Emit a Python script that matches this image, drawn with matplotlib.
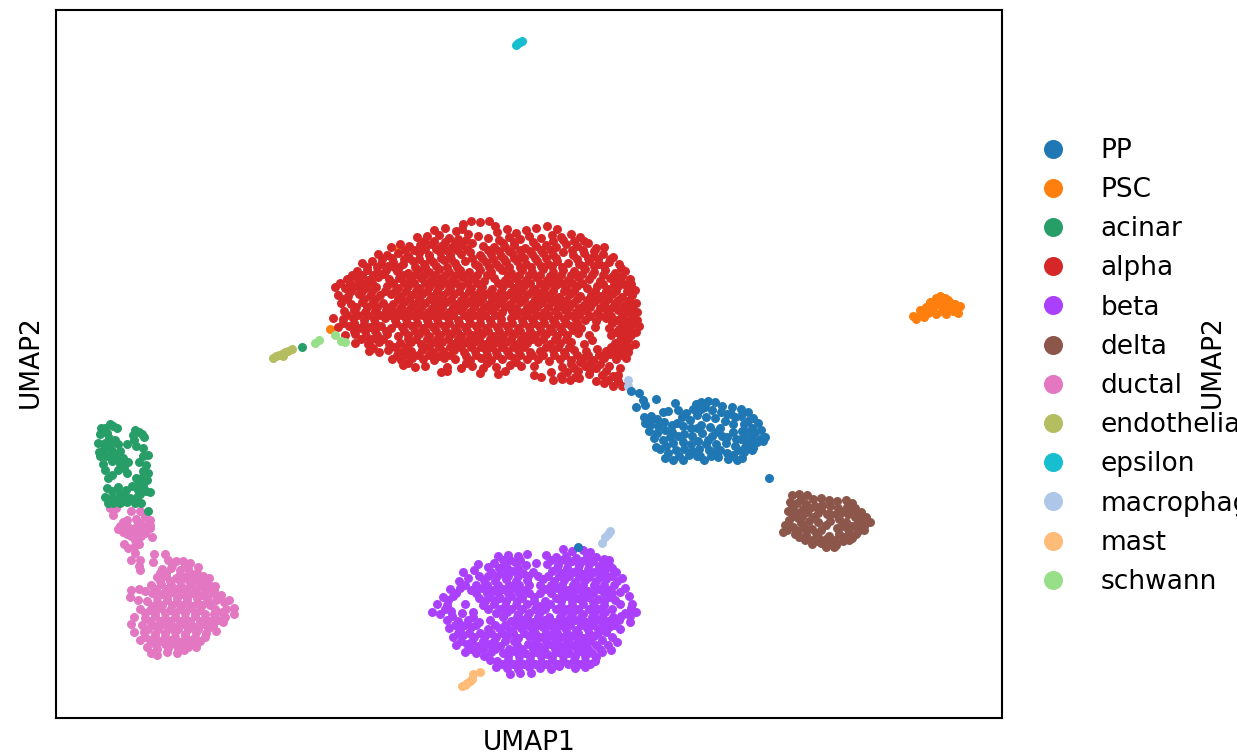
import numpy as np
import matplotlib
matplotlib.use('Agg')
import matplotlib.pyplot as plt

# embedding (axis has no ticks, units are arbitrary, y grows downward)
alpha = [
    (463,224),(471,221),(480,222),(489,221),(495,226),
    (434,230),(445,228),(456,231),(462,229),(497,232),(507,229),(516,233),(526,230),(536,228),(547,226),(557,229),(552,235),
    (417,237),(427,236),(439,235),(449,238),(458,239),(468,234),(478,236),(488,238),(499,240),(509,237),(520,239),(529,236),(541,238),(561,237),(571,234),(580,237),
    (391,247),(400,244),(409,246),(420,245),(431,244),(441,246),(452,247),(461,245),(472,243),(483,246),(494,247),(505,247),(514,245),(525,248),(536,246),(546,245),(556,247),(566,244),(577,246),(588,243),(596,248),(604,247),
    (378,254),(387,255),(398,253),(408,256),(419,253),(429,255),(440,252),(450,255),(461,254),(470,252),(480,255),(491,254),(501,256),(512,253),(521,255),(532,254),(543,253),(553,255),(563,252),(573,255),(584,253),(594,256),(603,254),(613,257),
    (362,263),(372,261),(381,264),(393,262),(403,264),(413,261),(424,264),(433,262),(444,260),(455,263),(465,261),(475,264),(486,262),(496,264),(506,262),(517,261),(526,264),(537,261),(548,264),(557,261),(568,263),(579,264),(589,261),(599,264),(609,262),(619,264),
    (357,271),(367,270),(377,272),(386,270),(397,271),(408,273),(418,270),(429,272),(439,269),(449,272),(460,270),(469,272),(480,270),(491,272),(502,270),(511,273),(522,270),(532,272),(543,269),(553,272),(563,270),(574,271),(585,269),(594,272),(605,270),(615,273),(625,271),
    (347,279),(357,278),(368,280),(378,277),(389,279),(399,278),(410,280),(421,278),(431,280),(441,278),(452,280),(462,277),(473,279),(484,281),(494,278),(505,280),(515,278),(526,280),(536,277),(547,280),(557,278),(568,280),(578,277),(589,279),(600,281),(610,278),(619,281),(630,279),
    (335,287),(345,288),(356,286),(366,288),(376,287),(387,286),(398,288),(408,286),(419,288),(429,287),(440,286),(450,288),(461,286),(471,288),(482,287),(492,289),(503,286),(514,288),(524,286),(535,289),(545,287),(556,285),(566,288),(577,286),(587,288),(597,286),(608,289),(618,286),(628,288),(635,290),
    (338,295),(348,296),(359,294),(370,296),(380,295),(391,294),(401,296),(412,295),(422,294),(433,296),(443,295),(454,294),(464,296),(475,295),(486,294),(496,296),(507,295),(517,296),(528,294),(538,296),(549,295),(559,297),(570,294),(580,296),(591,295),(601,296),(612,294),(622,297),(632,295),
    (341,303),(351,304),(362,302),(372,304),(383,303),(393,304),(404,302),(414,304),(425,303),(435,304),(446,302),(457,304),(467,303),(478,302),(489,304),(499,303),(510,304),(520,302),(531,304),(541,303),(552,302),(562,304),(573,303),(584,305),(594,302),(604,304),(615,303),(625,305),(636,303),
    (344,311),(354,310),(365,312),(375,311),(386,310),(396,312),(407,311),(417,310),(428,312),(438,311),(449,312),(459,310),(470,312),(481,311),(491,310),(502,312),(512,311),(523,312),(533,310),(544,312),(555,311),(565,310),(576,312),(586,311),(597,313),(607,311),(618,310),(628,312),(637,312),
    (333,318),(343,319),(353,318),(364,320),(374,319),(385,318),(395,320),(406,319),(416,317),(427,320),(437,319),(448,318),(458,320),(469,319),(480,318),(490,320),(501,319),(511,318),(522,320),(532,319),(543,318),(553,320),(564,319),(575,318),(585,320),(596,321),(606,318),(617,320),(627,321),(637,320),
    (338,327),(349,326),(359,328),(370,327),(381,326),(391,328),(402,327),(412,326),(423,328),(433,327),(444,326),(455,328),(465,327),(476,326),(486,328),(497,327),(507,326),(518,328),(529,327),(539,326),(550,328),(560,327),(571,326),(581,328),(595,327),(609,328),(619,329),(630,327),(639,326),
    (345,335),(355,334),(366,336),(377,335),(387,334),(398,336),(408,335),(419,334),(429,336),(440,335),(451,334),(461,336),(472,335),(482,334),(493,336),(503,335),(514,334),(525,336),(535,335),(546,334),(557,336),(567,335),(578,333),(589,335),(611,335),(621,336),(631,335),
    (355,343),(368,344),(379,342),(389,344),(400,343),(411,342),(421,344),(432,343),(442,342),(453,344),(464,343),(474,342),(485,344),(495,343),(506,342),(517,344),(527,343),(538,342),(550,344),(560,343),(571,342),(584,344),(592,340),(615,343),(625,342),(635,344),
    (369,351),(379,352),(388,350),(401,352),(411,351),(422,350),(433,352),(443,351),(454,350),(464,352),(475,351),(486,350),(496,352),(507,351),(518,350),(530,352),(540,351),(553,350),(564,352),(574,350),(586,351),(597,349),(606,351),(618,350),(628,352),
    (392,359),(401,360),(412,358),(423,359),(434,360),(444,358),(455,359),(470,360),(481,358),(491,360),(502,359),(514,358),(527,359),(538,359),(549,361),(560,359),(571,360),(583,358),(593,360),(604,358),(616,359),(626,358),
    (403,365),(415,367),(425,366),(447,367),(461,368),(472,366),(483,368),(496,367),(510,365),(521,366),(534,366),(562,367),(574,368),(585,366),(596,368),(609,366),(620,368),
    (441,372),(447,371),(480,373),(498,374),(505,371),(534,375),(541,377),(561,376),(575,377),(589,374),(602,375),(613,376),
    (553,380),(562,379),(570,380),(579,378),(596,381),(608,380),(618,381),(613,386),(622,386),
]
# second and third passes over the dense parts of the alpha blob
alpha_more = [
    (424,241),(445,242),(466,240),(503,243),(533,242),(553,241),(574,241),(594,251),
    (382,259),(404,259),(425,249),(446,250),(467,249),(488,250),(509,251),(530,251),(551,250),(572,250),(610,259),
    (367,267),(388,266),(409,258),(430,259),(451,259),(472,258),(493,259),(514,258),(535,258),(556,258),(577,259),(598,259),
    (352,275),(373,275),(394,267),(415,267),(436,266),(457,267),(478,266),(499,267),(520,267),(541,266),(562,267),(583,266),(604,266),(621,268),
    (340,283),(361,283),(382,274),(403,275),(424,275),(445,275),(466,275),(487,275),(508,275),(529,275),(550,276),(571,275),(592,275),(613,276),
    (351,291),(372,291),(393,283),(414,283),(435,283),(456,283),(477,283),(498,283),(519,283),(540,283),(561,283),(582,283),(603,284),(624,284),
    (343,299),(364,299),(385,291),(406,291),(427,291),(448,291),(469,291),(490,292),(511,292),(532,291),(553,291),(574,291),(595,291),(616,291),
    (356,307),(377,307),(398,299),(419,299),(440,299),(461,300),(482,299),(503,299),(524,299),(545,299),(566,300),(587,300),(608,299),(629,300),
    (347,315),(368,315),(390,307),(411,307),(432,308),(453,307),(474,307),(495,307),(516,308),(537,307),(558,307),(579,308),(600,308),(621,308),
    (343,323),(364,324),(390,315),(411,315),(432,315),(453,315),(474,315),(495,315),(516,315),(537,315),(558,315),(579,315),(600,316),(622,316),
    (354,331),(375,331),(396,323),(417,323),(438,323),(459,323),(480,323),(501,323),(523,323),(544,323),(566,323),(612,323),(633,323),
    (361,339),(383,339),(404,331),(425,331),(446,331),(467,331),(488,331),(509,331),(530,331),(552,331),(573,330),(616,332),(636,332),
    (373,348),(395,347),(416,339),(437,339),(458,339),(479,339),(500,339),(521,339),(543,339),(566,339),(620,340),(629,347),
    (397,355),(418,355),(439,347),(460,347),(481,347),(502,347),(524,347),(546,347),(569,347),(611,347),(622,355),
    (408,363),(429,355),(450,355),(476,355),(497,355),(520,355),(543,355),(565,355),(588,355),(610,354),(600,364),
    (466,363),(487,363),(516,362),(580,362),(590,370),(606,371),(567,372),
    (434,241),(455,243),(514,242),(563,240),(584,241),(405,250),(414,250),(436,249),(457,250),(499,251),(520,250),(541,250),(583,250),
    (392,258),(419,259),(441,258),(482,258),(504,259),(524,258),(546,258),(588,258),(377,267),(399,267),(425,267),(447,267),(489,267),(509,267),(531,267),(552,266),(594,266),
    (362,275),(384,274),(414,275),(435,275),(456,275),(477,275),(519,275),(540,275),(561,275),(582,274),(603,275),(622,276),
    (350,283),(372,283),(404,283),(425,283),(446,283),(467,283),(509,283),(530,283),(551,283),(572,283),(614,284),(631,284),
    (362,291),(395,291),(416,291),(437,291),(459,291),(480,291),(501,291),(521,291),(543,291),(564,291),(606,291),(627,291),
    (347,299),(375,299),(409,299),(430,299),(451,299),(472,299),(492,299),(514,299),(535,299),(556,299),(577,299),(598,299),(618,300),
    (367,307),(401,307),(421,307),(442,307),(463,307),(484,307),(505,307),(527,307),(548,307),(569,307),(590,307),(611,308),(632,307),
    (358,315),(380,315),(401,315),(422,315),(443,315),(464,315),(485,315),(527,315),(548,315),(569,315),(590,316),(611,316),(632,316),
    (354,323),(375,323),(407,323),(428,323),(449,323),(470,323),(491,323),(512,323),(534,323),(555,323),(577,323),(622,325),
    (365,331),(386,331),(415,331),(436,331),(457,331),(478,331),(499,331),(520,331),(541,331),(562,331),(625,331),
    (372,339),(408,339),(427,339),(448,339),(469,339),(490,339),(511,339),(532,339),(555,339),(628,339),
    (406,347),(428,347),(450,347),(471,347),(491,347),(513,347),(558,347),(622,347),
    (407,355),(439,356),(466,356),(487,355),(509,355),(532,355),(554,355),(577,355),(599,355),(615,354),
    (571,364),(590,363),(551,372),(578,371),(618,375),(604,383),
]
beta = [
    (563,549),(572,551),(583,550),(590,552),
    (498,556),(508,555),(518,556),(527,554),(546,555),(556,557),(566,556),(576,558),(587,556),(596,557),(604,559),
    (478,564),(494,563),(504,565),(515,562),(526,565),(536,563),(547,564),(558,565),(568,563),(579,565),(589,564),(599,566),(609,565),
    (463,572),(474,570),(491,572),(502,573),(512,571),(523,573),(533,572),(552,571),(562,573),(573,572),(583,574),(594,572),(604,573),(616,572),
    (459,581),(468,578),(484,580),(495,581),(506,579),(516,581),(527,580),(543,579),(554,581),(564,580),(575,582),(585,580),(596,581),(606,579),(617,581),(622,578),
    (450,589),(460,588),(471,590),(482,588),(493,590),(503,589),(514,588),(525,590),(546,589),(557,588),(568,590),(578,589),(588,591),(599,589),(609,590),(625,588),
    (443,597),(453,596),(479,598),(490,597),(500,598),(511,596),(522,598),(534,597),(556,598),(566,596),(577,598),(588,597),(598,599),(610,597),(629,596),
    (437,604),(447,605),(465,604),(483,605),(494,604),(505,606),(516,605),(527,604),(540,606),(550,604),(561,606),(572,605),(583,604),(594,606),(604,605),(620,604),(632,604),
    (432,612),(440,614),(451,611),(462,613),(473,612),(496,613),(507,612),(518,614),(529,613),(540,612),(562,613),(573,612),(583,614),(594,613),(605,612),(625,613),(636,612),
    (447,620),(458,621),(468,620),(479,622),(490,620),(511,621),(522,620),(533,622),(544,620),(554,622),(565,621),(575,620),(586,622),(597,620),(608,621),(619,620),(630,622),
    (449,628),(460,629),(471,627),(488,629),(499,628),(510,630),(521,628),(532,629),(543,627),(554,629),(565,628),(576,630),(587,628),(598,629),(609,627),(620,629),
    (453,637),(463,635),(474,637),(485,636),(496,637),(507,636),(518,638),(529,636),(540,637),(551,635),(561,637),(572,636),(583,638),(594,636),(612,637),
    (456,645),(467,644),(478,646),(489,644),(500,646),(517,645),(528,644),(539,646),(550,644),(561,646),(572,645),(583,644),(596,645),(608,645),(617,642),
    (465,652),(476,653),(491,652),(503,653),(514,651),(525,653),(536,652),(547,654),(558,652),(569,653),(580,651),(592,653),(602,652),
    (490,660),(497,661),(508,660),(519,661),(530,660),(541,662),(552,660),(563,661),(574,660),(585,661),(595,661),
    (496,667),(507,668),(518,669),(529,667),(540,668),(551,669),(575,668),(585,667),(559,666),
    (510,674),(531,673),(520,673),
]
beta_more = [
    (503,560),(520,560),(551,560),(572,561),(593,561),(609,560),
    (499,568),(518,568),(557,568),(578,569),(599,570),(612,568),(488,567),
    (479,576),(497,576),(518,576),(538,576),(559,576),(579,577),(600,577),(611,576),
    (465,585),(487,585),(509,585),(529,585),(551,585),(573,585),(594,585),(614,585),
    (456,593),(476,593),(498,593),(519,593),(540,593),(562,593),(583,593),(604,593),(620,592),
    (448,600),(485,601),(506,601),(545,601),(572,601),(593,602),(615,600),
    (445,609),(488,609),(511,609),(535,609),(556,609),(578,609),(600,609),(631,608),
    (452,616),(473,617),(503,617),(527,617),(549,617),(570,617),(592,617),(613,617),(630,616),
    (455,625),(476,625),(505,625),(527,625),(549,625),(570,625),(592,625),(614,625),
    (458,633),(480,633),(502,633),(524,633),(546,633),(567,633),(589,633),(606,632),
    (461,641),(483,641),(505,641),(535,641),(556,641),(578,641),(602,640),
    (471,649),(495,649),(522,649),(544,649),(566,649),(588,649),(611,650),
    (484,656),(508,656),(530,656),(552,656),(575,656),(596,657),
    (502,664),(524,664),(546,664),(568,664),(590,664),
    (510,560),(561,560),(582,561),(603,561),(507,568),(567,568),(588,569),(605,569),
    (488,576),(508,576),(528,576),(548,576),(569,576),(589,577),
    (476,585),(498,585),(519,585),(540,585),(562,585),(583,585),(604,585),
    (487,593),(508,593),(529,593),(551,593),(572,593),(593,593),(612,593),
    (495,601),(517,601),(534,601),(561,601),(582,601),(604,601),
    (500,609),(522,609),(545,609),(567,609),(589,609),(612,609),
    (517,617),(538,617),(560,617),(581,617),(602,617),(621,616),
    (465,625),(495,625),(516,625),(538,625),(560,625),(581,625),(603,625),
    (469,633),(491,633),(513,633),(535,633),(557,633),(578,633),(598,633),
    (472,641),(494,641),(514,641),(546,641),(567,641),(590,641),
    (483,649),(509,649),(533,649),(555,649),(577,649),(600,649),
    (519,656),(541,656),(563,656),(585,656),(513,664),(535,664),(557,664),(579,664),
]
ductal = [
    (110,508),(116,508),(113,515),(131,511),(140,511),
    (120,526),(127,520),(136,519),(145,517),(150,520),(118,529),(128,527),(137,526),(146,526),(150,525),(127,534),(135,532),(143,530),(150,528),(135,540),(131,536),(141,536),(152,537),
    (124,544),(128,548),(134,547),(139,544),(135,553),(131,560),(140,560),(139,566),(140,570),(154,554),(165,554),(153,562),
    (168,560),(176,561),(183,561),(190,563),
    (162,569),(171,568),(180,570),(188,569),(198,567),
    (157,577),(166,576),(176,578),(185,577),(194,579),(203,576),(209,578),
    (131,590),(139,589),(145,591),(151,585),(161,584),(171,585),(181,586),(191,584),(200,586),(209,585),(215,586),
    (130,597),(138,600),(152,593),(162,594),(172,592),(182,594),(192,593),(202,595),(213,593),(221,595),
    (147,601),(157,602),(167,600),(177,602),(187,601),(197,603),(207,601),(224,602),(229,600),
    (140,609),(150,610),(160,608),(170,610),(180,609),(190,608),(200,610),(215,609),(226,609),(234,608),
    (134,617),(145,618),(155,616),(165,618),(175,617),(185,618),(195,616),(205,618),(215,618),(225,617),(234,614),
    (131,624),(142,625),(153,625),(163,624),(173,626),(183,624),(193,626),(203,624),(213,625),(223,622),
    (134,632),(144,632),(155,634),(165,633),(175,632),(185,634),(196,632),(206,633),(216,631),
    (140,640),(150,640),(160,641),(170,640),(180,642),(190,640),(200,641),
    (147,647),(157,649),(168,648),(178,648),(188,647),(196,647),
    (151,653),(157,655),(167,652),(177,653),(184,650),
]
ductal_more = [
    (172,565),(185,565),(160,573),(180,574),(197,573),(170,581),(189,581),(205,581),
    (156,589),(176,589),(196,590),(214,590),(157,597),(177,598),(197,598),(216,600),
    (152,606),(172,605),(192,606),(210,605),(145,613),(165,613),(185,613),(205,614),(222,612),
    (150,621),(170,621),(190,621),(210,621),(148,629),(168,629),(188,629),(208,628),
    (155,637),(175,637),(195,637),(165,644),(185,644),(123,522),(140,523),(132,529),(145,533),(123,532),
    (166,573),(190,573),(160,581),(180,581),(198,581),(166,589),(186,589),(206,590),
    (167,597),(187,598),(207,598),(162,605),(182,605),(202,605),(155,613),(175,613),(195,613),(214,614),
    (160,621),(180,621),(200,621),(218,620),(158,629),(178,629),(198,629),(145,637),(165,637),(185,637),(205,637),(155,644),(175,644),(192,644),
]
acinar = [
    (110,424),(113,426),(101,428),(105,428),(100,434),(107,433),(117,428),
    (135,430),(139,432),(142,434),(144,437),(133,435),(134,440),(136,446),(98,443),(109,438),(115,440),(127,444),
    (100,456),(104,449),(110,446),(118,444),(112,451),(120,451),(103,464),(99,452),(123,458),(118,459),(128,462),(143,448),(148,455),(143,456),(146,465),
    (105,470),(108,478),(112,461),(118,470),(112,475),(124,468),(127,473),(139,462),(143,471),(148,473),(147,480),(136,478),(143,485),
    (107,488),(112,491),(118,487),(105,497),(112,498),(120,494),(126,490),(132,486),(138,490),(146,491),(150,492),(130,498),(137,497),(141,503),(120,503),(108,503),(127,502),(148,511),(302,347),
    (105,443),(114,456),(106,456),(120,464),(138,484),(125,497),(116,499),(140,494),(135,503),(113,503),(141,478),
]
pp = [
    (631,391),(639,393),(643,400),(645,405),(636,407),(656,399),(578,547),(769,478),
    (675,403),(696,404),(701,402),(708,401),(715,402),(722,406),(732,407),(741,409),(748,412),
    (644,417),(651,416),(657,419),(663,412),(668,411),(678,410),(686,413),(693,409),(701,409),(712,410),(721,412),(731,414),(741,416),(753,418),(758,423),
    (645,423),(650,425),(658,426),(664,422),(672,425),(682,417),(690,420),(706,417),(715,418),(725,421),(733,424),(744,424),(752,428),(761,430),(765,437),
    (649,431),(657,433),(665,430),(683,426),(691,428),(701,425),(710,427),(720,428),(733,432),(742,431),(752,436),(760,439),
    (654,438),(663,440),(670,437),(684,434),(692,436),(702,433),(712,436),(722,436),(741,439),(750,443),(757,442),(763,441),
    (666,446),(673,443),(683,442),(691,444),(698,441),(706,444),(716,444),(726,443),(735,446),(745,447),(752,450),
    (656,447),(660,449),(668,453),(676,450),(684,449),(692,451),(709,450),(720,450),(727,453),(738,450),(744,452),(753,448),
    (665,458),(673,460),(683,460),(689,455),(697,456),(704,460),(711,456),(718,457),(728,459),(737,460),(742,458),
    (705,407),(727,414),(697,415),(716,432),(736,439),(727,437),(699,449),(679,456),(733,455),(651,420),
    (677,423),(735,417),(748,421),(746,432),(755,432),(672,432),(678,436),(697,428),(708,440),(716,451),(700,456),(745,440),
]
psc = [
    (330,329),(398,248),
    (916,319),(913,316),(920,315),(924,317),(928,313),(920,310),(926,307),(932,310),(936,314),(930,302),(936,298),(940,296),(945,298),
    (938,304),(944,305),(942,311),(948,308),(951,303),(955,304),(958,308),(953,311),(958,313),(948,300),(934,306),(924,313),(940,300),(946,314),(960,306),
]
delta_cells = [
    (792,495),(799,494),(807,495),(813,499),(821,498),(829,500),(837,501),(846,500),(852,503),
    (790,502),(797,503),(806,504),(815,506),(822,505),(838,508),(847,507),(855,508),(861,512),
    (788,511),(796,512),(807,512),(818,513),(827,514),(848,514),(855,517),(866,517),
    (789,520),(798,518),(809,521),(818,522),(830,521),(839,519),(846,522),(858,522),(866,523),
    (785,525),(793,527),(803,527),(812,529),(821,530),(837,528),(848,529),(859,527),(870,522),
    (783,532),(795,534),(806,535),(818,537),(829,536),(839,534),(849,533),(858,531),(864,530),
    (812,540),(821,543),(829,542),(836,545),(843,541),(852,538),(856,534),(826,547),(834,547),(812,544),(806,529),
    (801,499),(810,508),(830,506),(802,516),(813,517),(836,514),(842,526),(852,526),(801,523),(787,530),(826,525),(816,533),(844,537),(835,540),(798,531),
    (792,507),(803,509),(821,509),(853,511),(860,517),(793,516),(830,514),(842,512),(864,526),(805,540),(799,537),(818,541),(826,539),(849,540),
]
endothelial = [(273,358),(276,356),(279,355),(282,354),(285,352),(288,351),(292,349),(283,356)]
epsilon = [(516,45),(518,43),(520,42),(522,41),(861,513)]
macrophage = [(602,543),(605,537),(608,534),(610,531),(628,380),(628,386)]
mast = [(462,686),(465,685),(467,683),(470,681),(472,679),(473,674),(480,672)]
schwann = [(315,343),(319,340),(335,335),(341,341),(345,342)]

cell_types = ['PP', 'PSC', 'acinar', 'alpha', 'beta', 'delta', 'ductal', 'endothelial',
              'epsilon', 'macrophage', 'mast', 'schwann']
colors = ['#1f77b4', '#ff7f0e', '#279e68', '#d62728', '#aa40fc', '#8c564b', '#e377c2', '#b5bd61',
          '#17becf', '#aec7e8', '#ffbb78', '#98df8a']
points = dict(zip(cell_types, [pp, psc, acinar, alpha + alpha_more, beta + beta_more, delta_cells,
                               ductal + ductal_more, endothelial, epsilon, macrophage, mast, schwann]))
draw_order = ['epsilon', 'PSC', 'delta', 'alpha', 'mast', 'beta', 'macrophage', 'PP', 'ductal',
              'acinar', 'endothelial', 'schwann']

W, H = 1237, 756
fig = plt.figure(figsize=(W / 100, H / 100), dpi=100)
ax = fig.add_axes([56 / W, 1 - 718 / H, 946 / W, 708 / H])

for name in draw_order:
    xy = np.array(points[name])
    ax.scatter(xy[:, 0], xy[:, 1], s=42, color=colors[cell_types.index(name)], linewidths=0)

ax.set_xlim(56, 1002)
ax.set_ylim(718, 10)
ax.set_xticks([])
ax.set_yticks([])
for spine in ax.spines.values():
    spine.set_linewidth(1.5)

handles = [plt.Line2D([], [], ls='', marker='o', ms=13.7, mew=0, color=c) for c in colors]
ax.legend(handles, cell_types, loc='center left', bbox_to_anchor=(1.0, 0.4965), frameon=False,
          fontsize=19, labelspacing=0.5, handletextpad=0.81, borderaxespad=0.524, handlelength=2.0)

fig.text(529 / W, 1 - 743 / H, 'UMAP1', fontsize=19, ha='center', va='center')
fig.text(31 / W, 1 - 362 / H, 'UMAP2', fontsize=19, ha='center', va='center', rotation=90)
fig.text(1213 / W, 1 - 362 / H, 'UMAP2', fontsize=19, ha='center', va='center', rotation=90)

fig.savefig('out.png', dpi=100)
